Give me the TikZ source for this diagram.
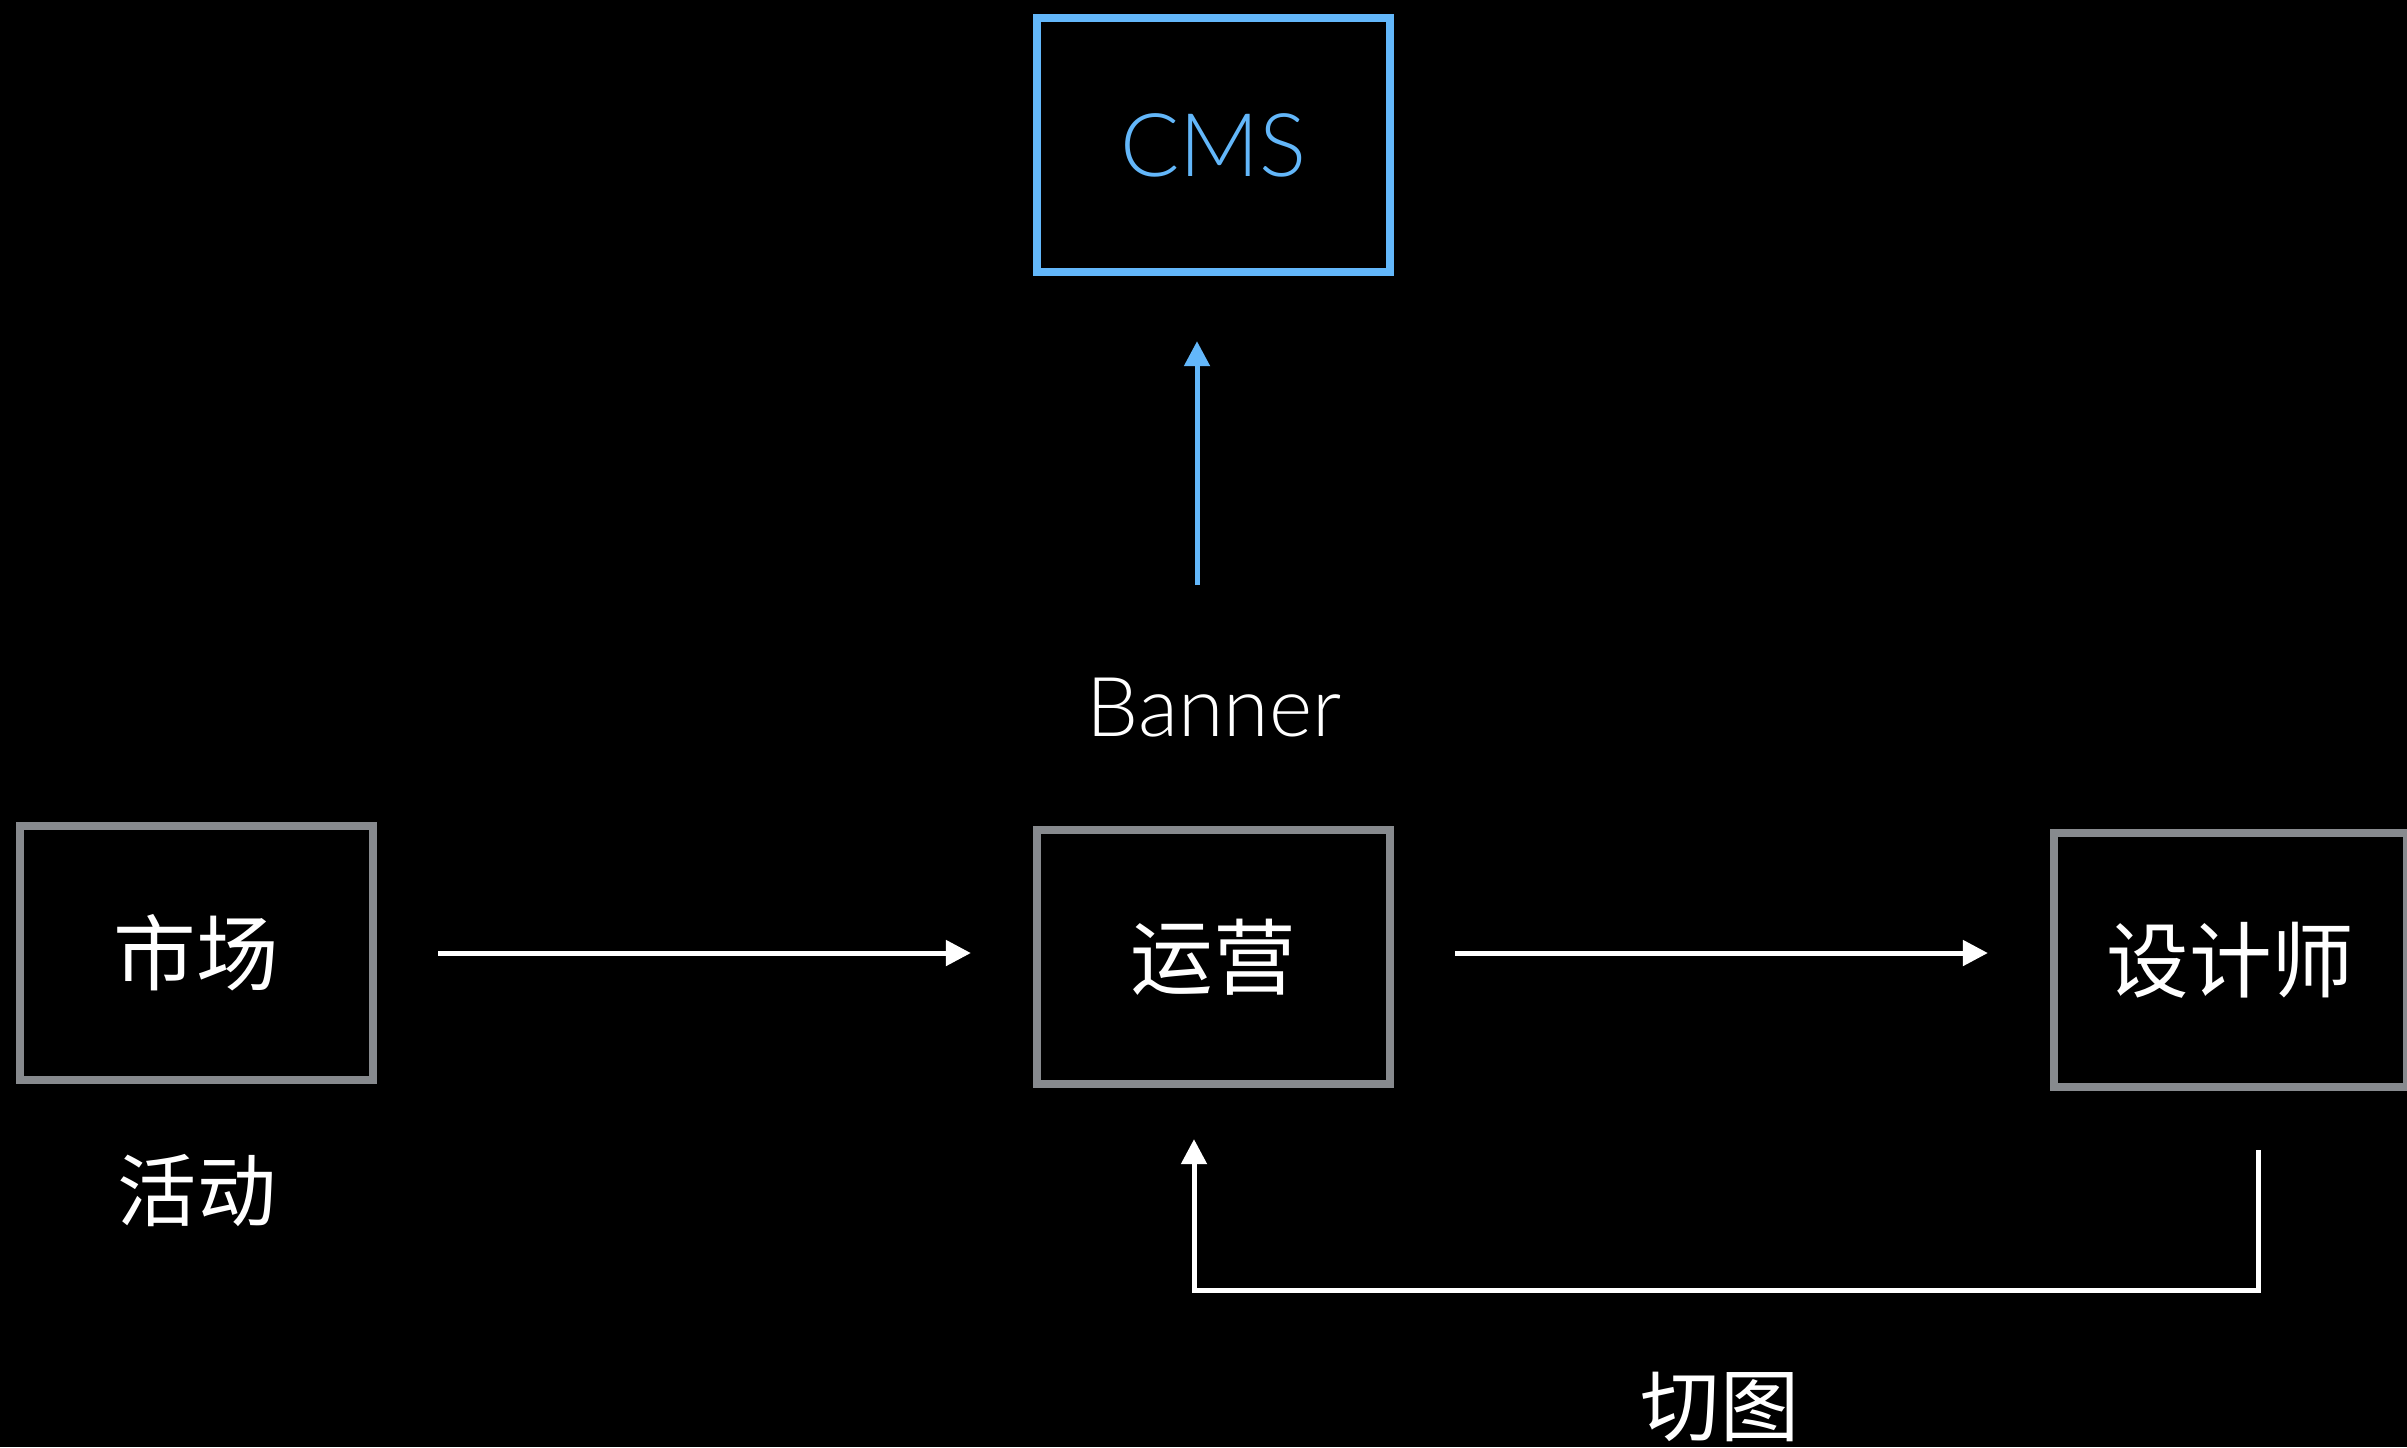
\documentclass[tikz,border=0pt]{standalone}
\usepackage{fontspec}
\setmainfont{Noto Sans CJK SC}
\newfontfamily\latin{Lato Light}
\usetikzlibrary{arrows.meta}
\definecolor{boxgray}{RGB}{135,138,142}
\definecolor{cmsblue}{RGB}{99,183,250}

\begin{document}
\begin{tikzpicture}
  [x=0.01cm,y=-0.01cm,
   box/.style={draw=boxgray,line width=0.08cm,minimum width=3.53cm,minimum height=2.54cm,
     inner sep=0pt,outer sep=0pt,text=white,font=\fontsize{23.5}{28}\selectfont},
   lbl/.style={text=white,inner sep=0pt,font=\fontsize{22.5}{28}\selectfont},
   arr/.style={draw=white,line width=0.05cm,-{Triangle[length=0.25cm,width=0.25cm]}}]
  \fill[black] (0,0) rectangle (2407,1447);
  \clip (0,0) rectangle (2407,1447);

  \node[box,draw=cmsblue,text=cmsblue,font=\latin\fontsize{25}{30}\selectfont] (cms) at (1213.5,145) {CMS};
  \node[box] (shichang) at (196.5,953)  {市场};
  \node[box] (yunying)  at (1213.5,957) {运营};
  \node[box] (sheji)    at (2230.5,960) {设计师};

  \node[lbl] (huodong) at (197,1191) {活动};
  \node[lbl,font=\latin\fontsize{23.5}{28}\selectfont] (banner) at (1214,708) {Banner};
  \node[lbl] (qietu) at (1720,1407) {切图};

  \foreach \from/\to in {shichang/yunying,yunying/sheji}
    \draw[arr,shorten <=0.65cm,shorten >=0.66cm] (\from.east |- shichang.east) -- (shichang.east -| \to.west);

  \coordinate (up) at (1197,585);
  \draw[arr,draw=cmsblue,shorten >=0.69cm] (up) -- (up |- cms.south);

  \draw[arr] ([xshift=0.275cm,yshift=-0.63cm]sheji.south) -- ++(0,140)
    -| ([xshift=-0.195cm,yshift=-0.55cm]yunying.south);
\end{tikzpicture}
\end{document}
